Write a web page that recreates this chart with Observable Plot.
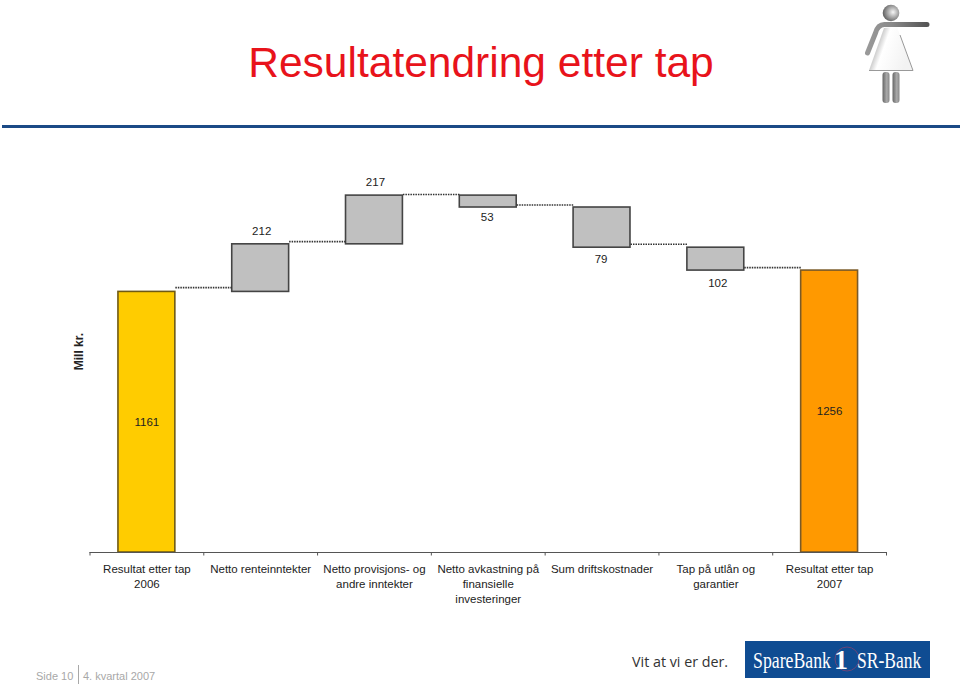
<!DOCTYPE html>
<html lang="no">
<head>
<meta charset="utf-8">
<script src="https://cdn.jsdelivr.net/npm/d3@7"></script>
<script src="https://cdn.jsdelivr.net/npm/@observablehq/plot@0.6"></script>
<style>
  html, body { margin: 0; padding: 0; background: #fff; }
  body { width: 960px; height: 684px; overflow: hidden; font-family: "Liberation Sans", Arial, sans-serif; }
  #page { position: relative; width: 960px; height: 684px; }
  #head { position: relative; height: 150px; }
  #head h1 { position: absolute; left: 0; top: 37px; width: 962px; margin: 0; text-align: center;
    font: 400 42.5px/52px "Liberation Sans", Arial, sans-serif; color: #e8131b; }
  #rule { position: absolute; left: 2px; right: 0; top: 125px; height: 3px; background: #1b4a86; }
  #icon { position: absolute; left: 860px; top: 0; }
  #chart svg { display: block; }
  #foot { position: relative; height: 50px; }
  #side, #quarter { position: absolute; font-size: 11px; line-height: 14px; color: #a8a8a8; }
  #side { left: 36px; top: 35px; }
  #quarter { left: 78px; padding-left: 4px; border-left: 1px solid #a8a8a8; top: 31px; padding-top: 4px; height: 15px; }
  #slogan { position: absolute; left: 632px; top: 18px; font: 400 14.3px/20px "Open Sans", sans-serif; color: #333; }
  #logo { position: absolute; left: 745px; top: 7px; }
</style>
</head>
<body>
<div id="page">
  <div id="head">
    <h1>Resultatendring etter tap</h1>
    <svg id="icon" width="80" height="110" viewBox="860 0 80 110">
      <defs>
        <radialGradient id="hd" cx="0.62" cy="0.45" r="0.62"><stop offset="0" stop-color="#f6f6f6"/><stop offset="1" stop-color="#5f5f5f"/></radialGradient>
        <linearGradient id="arm" x1="0" x2="1" y1="0" y2="0"><stop offset="0" stop-color="#999"/><stop offset="0.4" stop-color="#8a8a8a"/><stop offset="1" stop-color="#555"/></linearGradient>
        <linearGradient id="leg" x1="0" x2="1" y1="0" y2="0"><stop offset="0" stop-color="#666"/><stop offset="0.6" stop-color="#aaa"/><stop offset="1" stop-color="#888"/></linearGradient>
        <linearGradient id="dress" x1="0" x2="1" y1="0" y2="0.35"><stop offset="0" stop-color="#5f5f5f"/><stop offset="0.45" stop-color="#fff"/><stop offset="1" stop-color="#f2f2f2"/></linearGradient>
      </defs>
      <circle cx="891" cy="13" r="8.300" fill="url(#hd)"/>
      <path d="M885 24.500 H927 M885 24.500 Q878 24 875.500 33 L867.500 53" fill="none" stroke="url(#arm)" stroke-width="5" stroke-linecap="round" stroke-linejoin="round"/>
      <path d="M884 28 L897 27 L913 70.500 H869 Z" fill="url(#dress)"/>
      <path d="M869 70.500 H913 L900 35" fill="none" stroke="#999" stroke-width="1"/>
      <rect x="882.500" y="72" width="7" height="31" rx="3" fill="url(#leg)"/>
      <rect x="892.500" y="72" width="7" height="31" rx="3" fill="url(#leg)"/>
    </svg>
    <div id="rule"></div>
  </div>
  <div id="chart"></div>
  <div id="foot">
    <span id="side">Side 10</span><span id="quarter">4. kvartal 2007</span>
    <span id="slogan">Vit at vi er der.</span>
    <svg id="logo" width="185" height="37">
      <rect width="185" height="37" fill="#0f4c92"/>
      <circle cx="102" cy="18" r="12" fill="none" stroke="#6a4478" stroke-width="1"/>
      <g fill="#fff" font-family="Liberation Serif">
        <text transform="translate(8,27) scale(.74,1)" font-size="24">SpareBank</text>
        <text x="89" y="28" font-weight="700" font-size="28">1</text>
        <text transform="translate(112,27) scale(.73,1)" font-size="24">SR-Bank</text>
      </g>
    </svg>
  </div>
</div>
<script>
const categories = [
  "Resultat etter tap\n2006",
  "Netto renteinntekter",
  "Netto provisjons- og\nandre inntekter",
  "Netto avkastning på\nfinansielle\ninvesteringer",
  "Sum driftskostnader",
  "Tap på utlån og\ngarantier",
  "Resultat etter tap\n2007"
];
// Bar height; the fifth bar is drawn about 179 tall although its label reads 79.
const changes = [1161, 212, 217, -53, -179, -102, 1256];
const valueLabels = ["1161", "212", "217", "53", "79", "102", "1256"];
const kinds = ["start", "up", "up", "down", "down", "down", "end"];
// Height of each dotted connector.
const connectorLevels = [1180, 1385, 1595, 1548, 1373, 1269];
const barColors = {start: "#ffcc00", up: "#c0c0c0", down: "#c0c0c0", end: "#ff9900"};
const edgeColors = {start: "#6f5a14", up: "#444444", down: "#444444", end: "#7a5a28"};

let running = 0;
const rows = changes.map((c, i) => {
  const total = kinds[i] === "start" || kinds[i] === "end";
  const y1 = total ? 0 : running;
  const y2 = total ? c : running + c;
  running = y2;
  return {i, kind: kinds[i], low: Math.min(y1, y2), high: Math.max(y1, y2), label: valueLabels[i], cat: categories[i]};
});
const links = connectorLevels.map((level, i) => ({i, level}));
const labelFont = {fill: "#222", fontSize: 11.5};

const chart = Plot.plot({
  width: 960, height: 484,
  marginLeft: 89.5, marginRight: 74, marginTop: 0, marginBottom: 82,
  style: {fontFamily: "'Liberation Sans', Arial, sans-serif", fontSize: "12px", color: "#222", background: "#fff"},
  x: {domain: [0, 7], axis: null},
  y: {domain: [0, 1791], axis: null},
  marks: [
    Plot.rect(rows, {
      x1: d => d.i + 0.25, x2: d => d.i + 0.75, y1: "low", y2: "high",
      fill: d => barColors[d.kind], stroke: d => edgeColors[d.kind], strokeWidth: 1.6
    }),
    Plot.link(links, {
      x1: d => d.i + 0.75, x2: d => d.i + 1.25, y1: "level", y2: "level",
      stroke: "#333", strokeWidth: 1.6, strokeDasharray: "1.5 1"
    }),
    Plot.ruleY([0], {x1: 0, x2: 7, stroke: "#555", strokeWidth: 1.2}),
    Plot.axisX({ticks: d3.range(8), tickSize: 3.5, tickFormat: () => "", stroke: "#555", label: null}),
    Plot.text(rows.filter(d => d.kind === "start" || d.kind === "end"), {
      x: d => d.i + 0.5, y: d => d.high / 2, text: "label", ...labelFont
    }),
    Plot.text(rows.filter(d => d.kind === "up"), {
      x: d => d.i + 0.5, y: "high", text: "label", dx: 1, dy: -13.5, ...labelFont
    }),
    Plot.text(rows.filter(d => d.label === "53"), {
      x: d => d.i + 0.5, y: "low", text: "label", dx: -1, dy: 9.5, ...labelFont
    }),
    Plot.text(rows.filter(d => d.label === "79"), {
      x: d => d.i + 0.5, y: "low", text: "label", dx: -1, dy: 11.5, ...labelFont
    }),
    Plot.text(rows.filter(d => d.label === "102"), {
      x: d => d.i + 0.5, y: "low", text: "label", dx: 2, dy: 13, ...labelFont
    }),
    Plot.text(rows, {
      x: d => d.i + 0.5, y: 0, text: "cat", lineAnchor: "top", dy: 10, lineHeight: 1.3, ...labelFont
    }),
    Plot.text(["Mill kr."], {
      frameAnchor: "left", textAnchor: "middle", y: 895, dx: -10.5, rotate: -90, fontWeight: 700, fontSize: 12, fill: "#222"
    })
  ]
});
document.getElementById("chart").append(chart);
</script>
</body>
</html>
